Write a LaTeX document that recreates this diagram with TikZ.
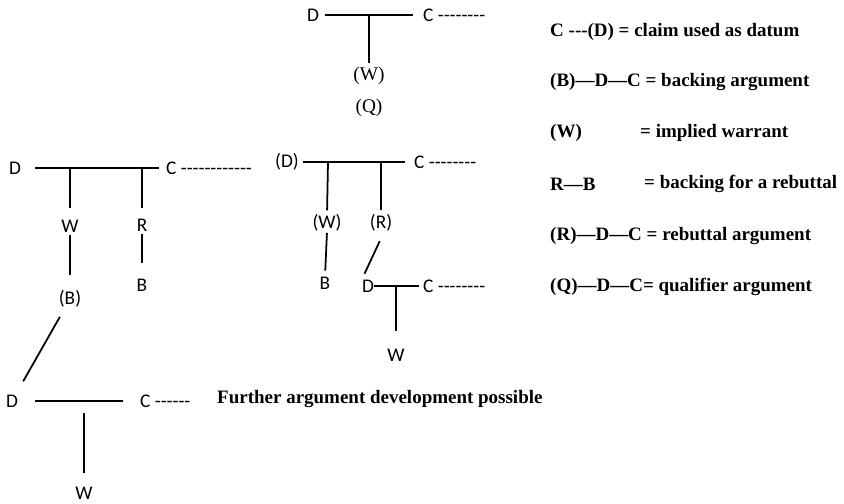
\documentclass[tikz,border=0pt]{standalone}
\usepackage{fontspec}
\setmainfont{Liberation Serif}
\newfontfamily\labelfont{Carlito}
\usetikzlibrary{positioning}

\begin{document}
\begin{tikzpicture}[x=0.03cm, y=-0.03cm,
    lbl/.style={font=\labelfont\fontsize{16.5}{19}\selectfont, inner sep=0pt},
    srf/.style={font=\fontsize{16.5}{19}\selectfont, inner sep=0pt},
    key/.style={anchor=west, font=\bfseries\fontsize{16.2}{19}\selectfont, inner sep=0pt},
    arm/.style={line width=1.5pt}]

    \useasboundingbox (0,0) rectangle (844,503);

    % Qualifier argument at the top
    \node[lbl] (dQ) at (313,15) {D};
    \node[lbl, anchor=west] (cQ) at (423,15) {C --------};
    \node[srf] (wQ) at (369,76) {(W)};
    \node[srf] (q) at (369,108) {(Q)};
    \coordinate (jQ) at (369,15);
    \draw[arm, shorten <=5pt, shorten >=8.5pt] (dQ.east) -- (cQ.west);
    \draw[arm, shorten >=3pt] (jQ) -- (wQ.north);

    % Main argument on the left
    \node[lbl] (dA) at (15,168) {D};
    \node[lbl, anchor=west] (cA) at (166,168) {C ------------};
    \node[lbl] (wA) at (70,226) {W};
    \node[lbl] (rA) at (142,225) {R};
    \node[lbl] (bA) at (142,285) {B};
    \node[lbl] (bkA) at (70,299) {(B)};
    \coordinate (jwA) at (70,168);
    \coordinate (jrA) at (142,168);
    \draw[arm, shorten <=12pt, shorten >=6pt] (dA.east) -- (cA.west);
    \draw[arm, shorten >=10pt] (jwA) -- (wA.north);
    \draw[arm, shorten >=9pt] (jrA) -- (rA.north);
    \draw[arm, shorten <=2pt, shorten >=13pt] (rA.south) -- (bA.north);
    \draw[arm, shorten <=2pt, shorten >=13pt] (wA.south) -- (bkA.north);

    % Claim used as datum, in the middle
    \node[lbl] (dM) at (287,162) {(D)};
    \node[lbl, anchor=west] (cM) at (414,162) {C --------};
    \node[lbl] (wM) at (327,223) {(W)};
    \node[lbl] (rM) at (381,223) {(R)};
    \node[lbl] (bM) at (325,283) {B};
    \coordinate (jwM) at (328,162);
    \coordinate (jrM) at (381,162);
    \draw[arm, shorten <=3pt, shorten >=7.5pt] (dM.east) -- (cM.west);
    \draw[arm, shorten >=3.4pt] (jwM) -- (wM.north);
    \draw[arm, shorten >=3.4pt] (jrM) -- (rM.north);
    \draw[arm, shorten <=1pt, shorten >=5pt] (wM.south) -- (bM.north);

    % Rebuttal argument
    \node[lbl] (dR) at (368,286) {D};
    \node[lbl, anchor=west] (cR) at (423,286) {C --------};
    \node[lbl] (wR) at (396,355) {W};
    \coordinate (jR) at (396,286);
    \draw[arm, shorten >=3.4pt] (dR.east) -- (cR.west);
    \draw[arm, shorten >=15pt] (jR) -- (wR.north);
    \draw[arm, shorten <=9pt, shorten >=5.5pt] (rM.-70) -- (dR.north west);

    % Backing argument at the bottom
    \node[lbl] (dB) at (12,401) {D};
    \node[lbl, anchor=west] (cB) at (140,401) {C ------};
    \node[lbl] (wB) at (84,493) {W};
    \coordinate (jB) at (84,413);
    \draw[arm, shorten <=14.5pt, shorten >=14.5pt] (dB.east) -- (cB.west);
    \draw[arm, shorten >=12pt] (jB) -- (wB.north);
    \draw[arm, shorten <=9pt, shorten >=13pt] (bkA) -- (dB);
    \node[key] (further) at (217,399) {Further argument development possible};

    % Key
    \node[key] (k1) at (550,32) {C -{}-{}-(D) = claim used as datum};
    \node[key] (k2) at (550,82) {(B)—D—C = backing argument};
    \node[key] (k3) at (550,133) {(W)};
    \node[key] (k3r) at (640,133) {= implied warrant};
    \node[key] (k4) at (550,184) {R—B};
    \node[key] (k4r) at (644,184) {= backing for a rebuttal};
    \node[key] (k5) at (550,236) {(R)—D—C = rebuttal argument};
    \node[key] (k6) at (550,287) {(Q)—D—C= qualifier argument};
\end{tikzpicture}
\end{document}
